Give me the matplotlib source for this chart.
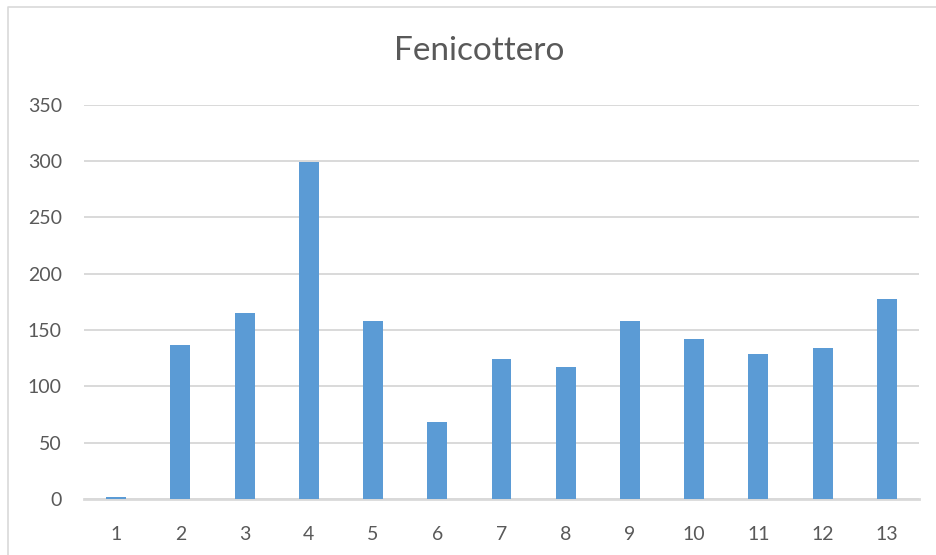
import matplotlib
matplotlib.use("Agg")
import matplotlib.pyplot as plt
from matplotlib.lines import Line2D

# Monthly counts for the flamingo series
categories = ["1", "2", "3", "4", "5", "6", "7", "8", "9", "10", "11", "12", "13"]
values = [2, 137, 165, 299, 158, 68, 124, 117, 158, 142, 129, 134, 177]
y_ticks = [0, 50, 100, 150, 200, 250, 300, 350]
title = "Fenicottero"

W, H = 937, 555
DPI = 100
BAR_COLOR = "#5B9BD5"
GRID_COLOR = "#D9D9D9"
TEXT_COLOR = "#595959"

plt.rcParams["font.family"] = ["Lato", "DejaVu Sans"]

fig = plt.figure(figsize=(W / DPI, H / DPI), dpi=DPI)
fig.patch.set_facecolor("white")

# plot area in pixel coordinates
left, right, top, bottom = 84, 919, 104.5, 499
ax = fig.add_axes([left / W, 1 - bottom / H, (right - left) / W, (bottom - top) / H])

x = list(range(len(categories)))
ax.bar(x, values, width=0.31, color=BAR_COLOR, zorder=3)

ax.set_xlim(-0.5, len(categories) - 0.5)
ax.set_ylim(0, 350)
ax.set_yticks(y_ticks)
ax.set_yticklabels([str(v) for v in y_ticks])
ax.set_xticks(x)
ax.set_xticklabels(categories)

ax.yaxis.grid(True, color=GRID_COLOR, linewidth=1.4, zorder=0)
ax.set_axisbelow(True)
for side in ("top", "right", "left"):
    ax.spines[side].set_visible(False)
ax.spines["bottom"].set_color(GRID_COLOR)
ax.spines["bottom"].set_linewidth(2.0)
ax.spines["bottom"].set_zorder(1)

ax.tick_params(axis="both", length=0, labelsize=14, labelcolor=TEXT_COLOR)
ax.tick_params(axis="y", pad=16)
ax.tick_params(axis="x", pad=19.5)

fig.text(479.5 / W, 1 - 51.5 / H, title, ha="center", va="center",
         fontsize=24, color=TEXT_COLOR)

# chart frame (left and top edges)
fig.add_artist(Line2D([8 / W, 8 / W, 1.0], [0.0, 1 - 7 / H, 1 - 7 / H],
                      transform=fig.transFigure, color=GRID_COLOR, linewidth=1.2))

fig.savefig("out.png", dpi=DPI, facecolor="white")
